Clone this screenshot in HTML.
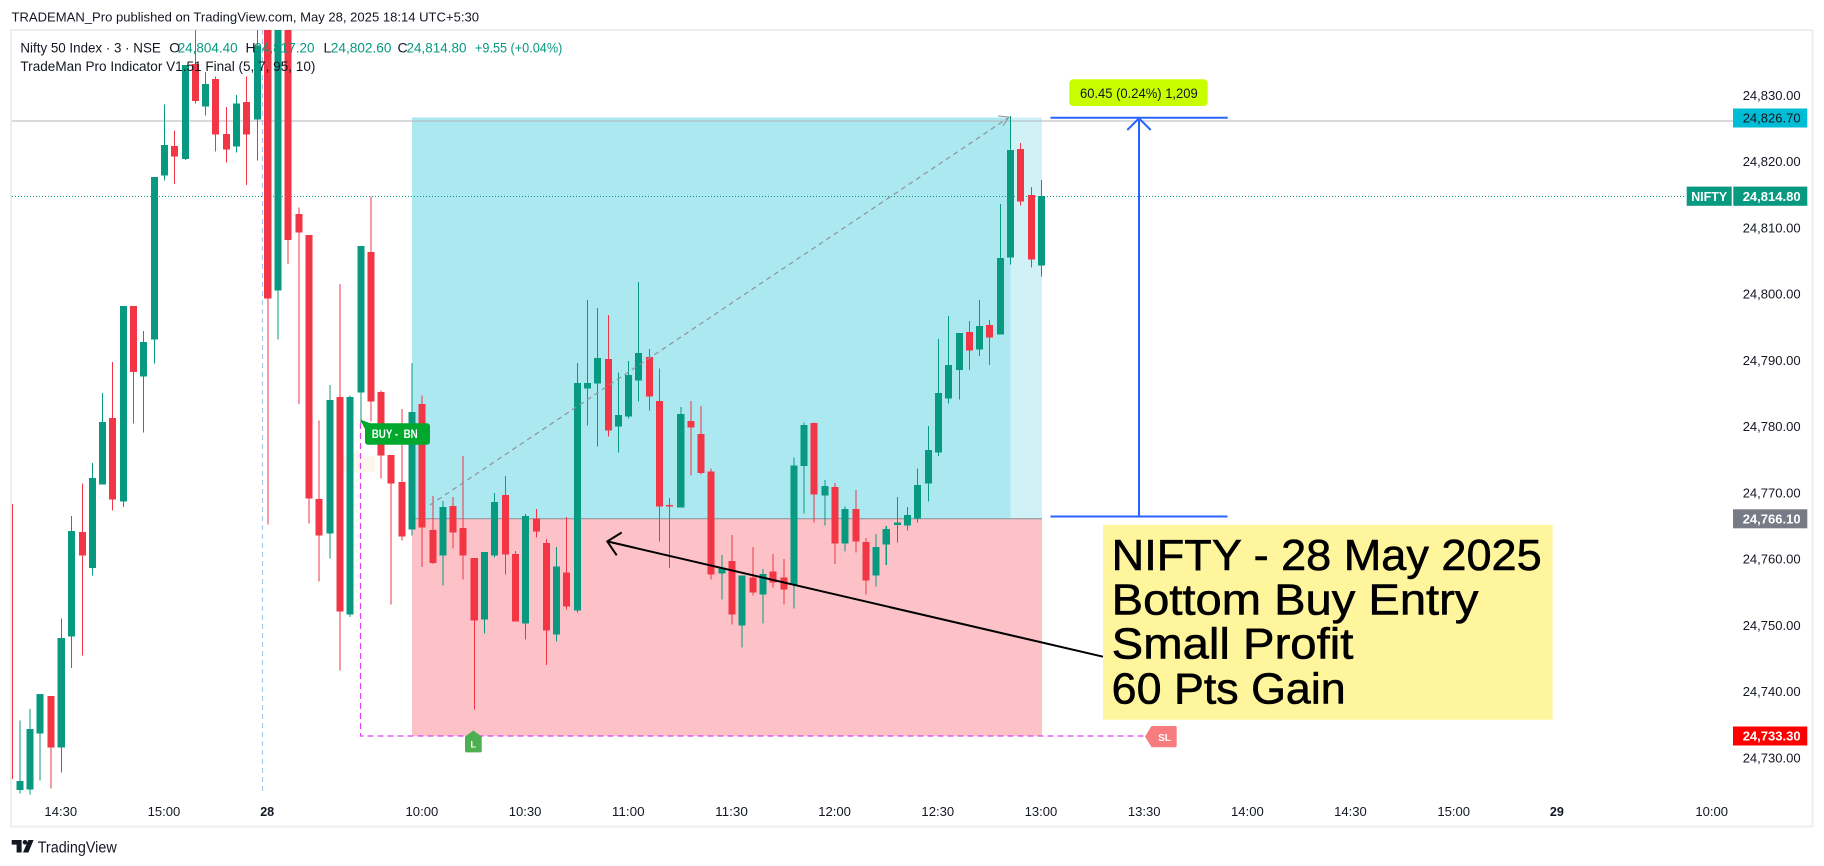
<!DOCTYPE html>
<html><head><meta charset="utf-8">
<style>
html,body{margin:0;padding:0;background:#fff;width:1824px;height:866px;overflow:hidden}
svg{display:block}
text{font-family:"Liberation Sans",Arial,sans-serif}
</style></head><body>
<svg width="1824" height="866" viewBox="0 0 1824 866" xmlns="http://www.w3.org/2000/svg">
<defs><clipPath id="pane"><rect x="12" y="30" width="1721" height="765"/></clipPath></defs>
<rect width="1824" height="866" fill="#fff"/>

<!-- header -->
<text x="11.5" y="21.5" font-size="12.5" fill="#131722" textLength="467.5" lengthAdjust="spacingAndGlyphs">TRADEMAN_Pro published on TradingView.com, May 28, 2025 18:14 UTC+5:30</text>

<!-- frame -->
<rect x="11" y="30" width="1801.5" height="796.5" fill="none" stroke="#eceef1" stroke-width="2"/>

<g clip-path="url(#pane)">
  <!-- position zones -->
  <rect x="412" y="117.5" width="598.5" height="401.2" fill="#ace8ef"/>
  <rect x="1010.5" y="117.5" width="31.5" height="401.2" fill="#d0f2f6"/>
  <rect x="412" y="518.7" width="630" height="217.3" fill="#fcc2c7"/>
  <line x1="412" y1="518.7" x2="1042" y2="518.7" stroke="#8a8d96" stroke-width="1"/>

  <!-- day separator -->
  <line x1="262.5" y1="30" x2="262.5" y2="795" stroke="#a9c8f3" stroke-width="1.2" stroke-dasharray="5,4"/>

  <!-- horizontal lines -->
  <line x1="12" y1="121" x2="1733" y2="121" stroke="#b2b5be" stroke-width="1"/>
  <line x1="12" y1="196.5" x2="1686" y2="196.5" stroke="#089981" stroke-width="1" stroke-dasharray="1,2"/>

  <!-- faint shape -->
  <path d="M340 456 H352 L357 450 L362 456 H375 V472 H340 Z" fill="#fcf6ea" opacity="0.9"/>

  <!-- candles -->
  <g transform="matrix(1.002429 0 0 1 -2.403 0)" fill="none" shape-rendering="crispEdges">
    <path stroke="#089981" stroke-width="1" d="M22.5 720.5V793.6M32.5 709.1V794.6M42.5 694.1V780.7M63.5 618.5V772.7M73.5 516V667.8M94.5 462.8V575.7M104.5 393.2V484.7M125.5 306.1V507.1M145.5 331V432.5M156.5 177.2V363.3M166.5 104.6V180.7M187.5 64.8V159.8M207.5 72V115.5M238.5 95.1V152.4M259.5 29V160.3M279.5 29V339.4M331.5 385.2V558.3M351.5 395.6V617M362.5 245.9V423M413.5 362.8V535.4M444.5 501.1V585.7M485.5 551.9V633.4M495.5 493.1V557.3M526.5 514V639.4M557.5 546.9V641.4M578.5 362.8V612.5M588.5 300.1V425.5M598.5 308.1V446.4M619.5 372.3V452.4M629.5 360.8V418.5M639.5 282.2V401.6M681.5 407.1V507.6M722.5 554.8V599.6M742.5 575.7V647.4M763.5 568.8V623.5M794.5 457.3V608.6M804.5 422.5V513.5M825.5 480.2V525.5M845.5 506.6V551.4M876.5 534V586.7M886.5 526V564.8M897.5 497.1V542.4M907.5 507.1V530.5M917.5 468.3V522.5M928.5 426V501.6M938.5 338.9V455.8M948.5 316V403.6M959.5 333V399.6M979.5 300.1V355.8M1000.5 204.1V334.4M1010.5 116V264.3M1041.5 180.2V276.7"/>
    <path stroke="#089981" stroke-width="7" d="M22.5 781.2V790.2M32.5 729V789.7M42.5 694.1V733.4M63.5 637.9V747.4M73.5 531V636.4M94.5 478.2V567.8M104.5 422V484.7M125.5 306.1V501.6M145.5 341.9V376.7M156.5 177.2V339.4M166.5 144.9V175.7M187.5 64.8V158.8M207.5 84V106.3M238.5 103.6V146.4M259.5 45.3V119.5M279.5 20V290.7M331.5 400.1V533.4M351.5 397.1V614.5M362.5 245.9V392.6M413.5 412.1V529.5M444.5 507.1V555.3M485.5 551.9V619.5M495.5 502.1V555.3M526.5 516V623.5M557.5 566.3V634.4M578.5 383.2V610.6M588.5 383.2V388.7M598.5 357.8V383.7M619.5 415V426.5M629.5 375.2V416.5M639.5 352.9V380.7M681.5 414V507.6M722.5 567.3V573.7M742.5 575.7V625.5M763.5 574.2V594.6M794.5 465.3V584.7M804.5 425V465.8M825.5 486.2V495.6M845.5 509.1V543.4M876.5 546.9V575.7M886.5 529V544.4M897.5 522.5V525M907.5 515V525.5M917.5 485.2V518.5M928.5 449.9V483.7M938.5 393.2V452.4M948.5 364.8V398.6M959.5 333V369.8M979.5 326V349.4M1000.5 257.8V334.4M1010.5 149.9V257.3M1041.5 196.1V265.3"/>
    <path stroke="#f23645" stroke-width="1" d="M53.5 696.1V788.7M84.5 483.7V655.3M114.5 361.8V510.6M135.5 306.1V423.5M176.5 130.5V184.2M197.5 29V103.6M217.5 76.3V151.4M228.5 107.1V162.3M248.5 76.3V185.2M269.5 29V524.5M289.5 29V263.8M300.5 207.6V404.1M310.5 235V523.5M320.5 420.5V581.7M341.5 284.2V670.3M372.5 196.6V421.5M382.5 390.7V478.7M392.5 454.8V604.6M403.5 409.1V540.4M423.5 395.6V566.8M434.5 496.1V563.8M454.5 497.1V548.4M464.5 455.8V579.7M475.5 557.8V709.6M506.5 476.2V574.7M516.5 550.9V621.5M537.5 509.1V537.4M547.5 538.9V664.8M567.5 517V609.6M609.5 315V436.4M650.5 348.9V410.6M660.5 368.3V541.4M670.5 498.1V567.8M691.5 401.1V475.7M701.5 406.1V474.7M711.5 468.3V579.7M732.5 534.9V624.5M753.5 546.9V595.6M773.5 553.8V587.7M784.5 558.8V604.6M814.5 422.5V522.5M835.5 483.2V563.8M856.5 490.2V552.4M866.5 537.9V594.6M969.5 321V369.8M989.5 320V364.8M1020.5 142.9V205.6M1031.5 187.2V267.3"/>
    <path stroke="#f23645" stroke-width="7" d="M53.5 696.1V747.4M84.5 532V555.3M114.5 418V499.6M135.5 306.1V371.8M176.5 145.9V156.3M197.5 64V101.1M217.5 79V134.5M228.5 134V149.4M248.5 102.1V134.5M269.5 20V298.6M289.5 20V239.9M300.5 214V232.5M310.5 235V498.6M320.5 499.1V535.4M341.5 397.1V611.6M372.5 251.9V401.6M382.5 392.2V455.3M392.5 454.8V483.7M403.5 482.2V536.4M423.5 404.1V527.5M434.5 530V562.8M454.5 506.1V532.5M464.5 528V555.3M475.5 557.8V620.5M506.5 495.1V554.3M516.5 553.8V621.5M537.5 518.5V531.5M547.5 542.9V630.5M567.5 572.3V606.6M609.5 358.8V430.5M650.5 356.8V396.6M660.5 401.1V506.6M670.5 505V506.5M691.5 421V427.5M701.5 434V472.8M711.5 471.3V574.7M732.5 560.8V614.5M753.5 577.7V592.6M773.5 571.3V582.7M784.5 577.7V589.7M814.5 423V494.6M835.5 487.2V543.4M856.5 509.1V541.4M866.5 541.9V580.7M969.5 332V350.4M989.5 325V337.4M1020.5 148.9V201.6M1031.5 195.1V259.3"/>
  </g>
  <rect x="11.5" y="504" width="1.5" height="275" fill="#f23645"/>

  <!-- SL dashed path -->
  <path d="M360.5 423 V736 H1145" fill="none" stroke="#e040fb" stroke-width="1.2" stroke-dasharray="6,4"/>

  <!-- diagonal dashed -->
  <line x1="430" y1="505" x2="1008" y2="118" stroke="#8f929b" stroke-width="1.2" stroke-dasharray="5,4"/>
  <path d="M998 116 L1009 117 L1003 126" fill="none" stroke="#8f929b" stroke-width="1"/>

  <!-- black arrow -->
  <line x1="1103" y1="656.7" x2="607.3" y2="541.4" stroke="#000" stroke-width="2"/>
  <path d="M621.7 532.5 L607.3 541.4 L616.7 555.3" fill="none" stroke="#000" stroke-width="2"/>

  <!-- BUY label -->
  <polygon points="360,419.5 371,423.5 366,431" fill="#00a82e"/>
  <rect x="365" y="423.3" width="65" height="21.4" rx="3" fill="#00a82e"/>
  <text x="371.7" y="437.8" font-size="12" font-weight="bold" fill="#fff" textLength="46" lengthAdjust="spacingAndGlyphs">BUY - &#160;BN</text>

  <!-- L label -->
  <path d="M473.3 730.5 L481.7 736.5 V751 Q481.7 752.4 480.3 752.4 H466.4 Q465 752.4 465 751 V736.5 Z" fill="#4caf50"/>
  <text x="473.3" y="747.5" font-size="9" font-weight="bold" fill="#fff" text-anchor="middle">L</text>

  <!-- SL label -->
  <path d="M1145 736.5 L1151.5 726 H1175 Q1176.7 726 1176.7 727.7 V745.6 Q1176.7 747.3 1175 747.3 H1151.5 Z" fill="#f77c80"/>
  <text x="1164.5" y="740.8" font-size="10" font-weight="bold" fill="#fff" text-anchor="middle">SL</text>

  <!-- measure tool -->
  <g stroke="#2962ff" stroke-width="2" fill="none">
    <line x1="1050.5" y1="117.7" x2="1227.7" y2="117.7"/>
    <line x1="1050.5" y1="516.5" x2="1227.5" y2="516.5"/>
    <line x1="1139" y1="118" x2="1139" y2="516.5"/>
    <path d="M1127.3 130 L1139 118.3 L1150.7 130"/>
  </g>
  <rect x="1069.3" y="79.3" width="138.4" height="26.7" rx="4" fill="#c8ff00"/>
  <text x="1080" y="98" font-size="13.5" fill="#131722" textLength="117.7" lengthAdjust="spacingAndGlyphs">60.45 (0.24%) 1,209</text>

  <!-- note box -->
  <rect x="1103" y="525" width="449.7" height="194.7" fill="#fff59d"/>
  <g font-size="44" fill="#000" stroke="#000" stroke-width="0.6">
    <text x="1111.7" y="570" textLength="430" lengthAdjust="spacingAndGlyphs">NIFTY - 28 May 2025</text>
    <text x="1111.7" y="614.5" textLength="366.7" lengthAdjust="spacingAndGlyphs">Bottom Buy Entry</text>
    <text x="1111.7" y="658.5" textLength="241.7" lengthAdjust="spacingAndGlyphs">Small Profit</text>
    <text x="1111.7" y="703.5" textLength="234" lengthAdjust="spacingAndGlyphs">60 Pts Gain</text>
  </g>
</g>

<!-- legend -->
<g font-size="14">
  <text x="20.4" y="52.7" fill="#131722" textLength="140.4" lengthAdjust="spacingAndGlyphs">Nifty 50 Index · 3 · NSE</text>
  <text x="169.2" y="52.7" fill="#131722">O</text>
  <text x="177.7" y="52.7" fill="#089981" textLength="60" lengthAdjust="spacingAndGlyphs">24,804.40</text>
  <text x="245.5" y="52.7" fill="#131722">H</text>
  <text x="254.3" y="52.7" fill="#089981" textLength="60.3" lengthAdjust="spacingAndGlyphs">24,817.20</text>
  <text x="323.5" y="52.7" fill="#131722">L</text>
  <text x="330.8" y="52.7" fill="#089981" textLength="60.7" lengthAdjust="spacingAndGlyphs">24,802.60</text>
  <text x="397.5" y="52.7" fill="#131722">C</text>
  <text x="406.5" y="52.7" fill="#089981" textLength="60" lengthAdjust="spacingAndGlyphs">24,814.80</text>
  <text x="475" y="52.7" fill="#089981" textLength="87.3" lengthAdjust="spacingAndGlyphs">+9.55 (+0.04%)</text>
  <text x="20.4" y="71" fill="#131722" textLength="295" lengthAdjust="spacingAndGlyphs">TradeMan Pro Indicator V1.51 Final (5, 7, 95, 10)</text>
</g>

<!-- price axis ticks -->
<g font-size="13" fill="#131722">
  <text x="1742.7" y="99.9" textLength="58" lengthAdjust="spacingAndGlyphs">24,830.00</text>
  <text x="1742.7" y="166.2" textLength="58" lengthAdjust="spacingAndGlyphs">24,820.00</text>
  <text x="1742.7" y="232.4" textLength="58" lengthAdjust="spacingAndGlyphs">24,810.00</text>
  <text x="1742.7" y="298.7" textLength="58" lengthAdjust="spacingAndGlyphs">24,800.00</text>
  <text x="1742.7" y="364.9" textLength="58" lengthAdjust="spacingAndGlyphs">24,790.00</text>
  <text x="1742.7" y="431.2" textLength="58" lengthAdjust="spacingAndGlyphs">24,780.00</text>
  <text x="1742.7" y="497.4" textLength="58" lengthAdjust="spacingAndGlyphs">24,770.00</text>
  <text x="1742.7" y="563.7" textLength="58" lengthAdjust="spacingAndGlyphs">24,760.00</text>
  <text x="1742.7" y="629.9" textLength="58" lengthAdjust="spacingAndGlyphs">24,750.00</text>
  <text x="1742.7" y="696.2" textLength="58" lengthAdjust="spacingAndGlyphs">24,740.00</text>
  <text x="1742.7" y="762.4" textLength="58" lengthAdjust="spacingAndGlyphs">24,730.00</text>
</g>

<!-- price labels -->
<rect x="1733" y="108.5" width="74.3" height="19" fill="#00bcd4"/>
<text x="1742.7" y="122.5" font-size="13" fill="#131722" textLength="58" lengthAdjust="spacingAndGlyphs">24,826.70</text>

<rect x="1686.7" y="186.6" width="45" height="19.2" fill="#089981"/>
<text x="1709.2" y="200.8" font-size="12.5" font-weight="bold" fill="#fff" text-anchor="middle" textLength="36" lengthAdjust="spacingAndGlyphs">NIFTY</text>
<rect x="1733.3" y="186.6" width="74" height="19.2" fill="#089981"/>
<text x="1742.7" y="200.8" font-size="13" font-weight="bold" fill="#fff" textLength="58" lengthAdjust="spacingAndGlyphs">24,814.80</text>

<rect x="1733" y="509.3" width="74.3" height="19" fill="#787b86"/>
<text x="1742.7" y="523.3" font-size="13" font-weight="bold" fill="#fff" textLength="58" lengthAdjust="spacingAndGlyphs">24,766.10</text>

<rect x="1733" y="726.5" width="74.3" height="19" fill="#ff0000"/>
<text x="1742.7" y="740.5" font-size="13" font-weight="bold" fill="#fff" textLength="58" lengthAdjust="spacingAndGlyphs">24,733.30</text>

<!-- time axis -->
<g font-size="13" fill="#131722" text-anchor="middle">
  <text x="60.8" y="816" textLength="32.7" lengthAdjust="spacingAndGlyphs">14:30</text>
  <text x="164" y="816" textLength="32.7" lengthAdjust="spacingAndGlyphs">15:00</text>
  <text x="267.2" y="816" font-weight="bold" textLength="14" lengthAdjust="spacingAndGlyphs">28</text>
  <text x="421.9" y="816" textLength="32.7" lengthAdjust="spacingAndGlyphs">10:00</text>
  <text x="525.1" y="816" textLength="32.7" lengthAdjust="spacingAndGlyphs">10:30</text>
  <text x="628.3" y="816" textLength="32.7" lengthAdjust="spacingAndGlyphs">11:00</text>
  <text x="731.5" y="816" textLength="32.7" lengthAdjust="spacingAndGlyphs">11:30</text>
  <text x="834.6" y="816" textLength="32.7" lengthAdjust="spacingAndGlyphs">12:00</text>
  <text x="937.8" y="816" textLength="32.7" lengthAdjust="spacingAndGlyphs">12:30</text>
  <text x="1041" y="816" textLength="32.7" lengthAdjust="spacingAndGlyphs">13:00</text>
  <text x="1144.2" y="816" textLength="32.7" lengthAdjust="spacingAndGlyphs">13:30</text>
  <text x="1247.4" y="816" textLength="32.7" lengthAdjust="spacingAndGlyphs">14:00</text>
  <text x="1350.5" y="816" textLength="32.7" lengthAdjust="spacingAndGlyphs">14:30</text>
  <text x="1453.7" y="816" textLength="32.7" lengthAdjust="spacingAndGlyphs">15:00</text>
  <text x="1556.9" y="816" font-weight="bold" textLength="14" lengthAdjust="spacingAndGlyphs">29</text>
  <text x="1711.7" y="816" textLength="32.7" lengthAdjust="spacingAndGlyphs">10:00</text>
</g>

<!-- TradingView logo -->
<g fill="#131722">
  <path d="M11.7 840 H21.6 V852.5 H16.6 V844.6 H11.7 Z"/>
  <circle cx="25" cy="842.3" r="2.3"/>
  <path d="M28.3 840 H33.6 L28.4 852.5 H23 Z"/>
</g>
<text x="37.7" y="852.3" font-size="15.5" fill="#131722" textLength="79" lengthAdjust="spacingAndGlyphs">TradingView</text>
</svg>
</body></html>
